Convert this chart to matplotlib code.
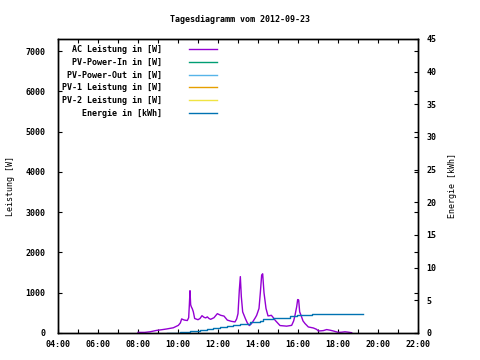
import matplotlib
matplotlib.use("Agg")
import matplotlib.pyplot as plt

plt.rcParams["font.family"] = "DejaVu Sans Mono"
plt.rcParams["font.size"] = 6
plt.rcParams["font.weight"] = "bold"

title = "Tagesdiagramm vom 2012-09-23"

# AC Leistung (W)
ac_times = ["08:00", "08:20", "08:36", "08:56", "09:10", "09:26", "09:36", "09:46", "10:01",
            "10:07", "10:11", "10:16", "10:20", "10:28", "10:32", "10:34", "10:36", "10:38", "10:40",
            "10:43", "10:46", "10:50", "11:00", "11:06", "11:12", "11:18", "11:23", "11:28", "11:33",
            "11:38", "11:48", "11:58", "12:03", "12:08", "12:18", "12:28", "12:40", "12:51",
            "12:56", "13:00", "13:04", "13:07", "13:10", "13:14", "13:22", "13:28", "13:34", "13:40",
            "13:44", "13:52", "13:56", "14:03", "14:07", "14:11", "14:14", "14:18", "14:24",
            "14:30", "14:35", "14:40", "14:46", "14:51", "15:06", "15:26", "15:41", "15:47",
            "15:51", "15:56", "15:59", "16:02", "16:05", "16:09", "16:15", "16:21", "16:31",
            "16:46", "16:56", "17:01", "17:10", "17:16", "17:26", "17:36", "17:46", "18:01",
            "18:11", "18:21", "18:31", "18:41"]
ac_watts = [15, 15, 30, 65, 80, 100, 115, 130, 190,
            250, 350, 330, 320, 310, 380, 690, 1050, 700, 650,
            600, 525, 360, 330, 360, 430, 390, 375, 400, 360,
            340, 380, 480, 460, 440, 420, 320, 290, 275,
            350, 480, 1070, 1400, 900, 525, 360, 250, 185, 230,
            275, 380, 440, 610, 1000, 1440, 1470, 1000, 610,
            425, 430, 440, 380, 320, 185, 170, 190, 300,
            440, 650, 830, 820, 525, 440, 300, 235, 150,
            125, 90, 50, 55, 60, 85, 70, 50, 15,
            20, 30, 20, 8]

# Energie (kWh)
en_times = ["09:26", "10:06", "10:36", "11:06", "11:26", "11:46", "12:06", "12:26", "12:46",
            "13:06", "13:36", "14:06", "14:16", "14:46", "15:36", "15:56", "16:16", "16:41",
            "19:16"]
en_kwh = [0.0, 0.1, 0.3, 0.5, 0.65, 0.8, 0.95, 1.1, 1.25,
          1.4, 1.7, 1.9, 2.1, 2.35, 2.55, 2.7, 2.75, 2.96,
          2.96]

# not recorded on this day
pv_in = []
pv_out = []
pv1 = []
pv2 = []

hour_ticks = list(range(4, 23, 2))
hour_labels = ["%02d:00" % h for h in hour_ticks]


def to_hours(ts):
    return [int(t[:2]) + int(t[3:]) / 60 for t in ts]


fig = plt.figure(figsize=(4.8, 3.6), dpi=100)
ax = fig.add_axes([58 / 480, 1 - 333 / 360, 360 / 480, 294 / 360])
ax2 = ax.twinx()

ax.plot(to_hours(ac_times), ac_watts, color="#9400d3", lw=1, label="AC Leistung in [W]")
ax.plot(pv_in, pv_in, color="#009e73", lw=1, label="PV-Power-In in [W]")
ax.plot(pv_out, pv_out, color="#56b4e9", lw=1, label="PV-Power-Out in [W]")
ax.plot(pv1, pv1, color="#e69f00", lw=1, label="PV-1 Leistung in [W]")
ax.plot(pv2, pv2, color="#f0e442", lw=1, label="PV-2 Leistung in [W]")
ax2.plot(to_hours(en_times), en_kwh, color="#0072b2", lw=1, drawstyle="steps-post",
         label="Energie in [kWh]")

ax.set_xlim(4, 22)
ax.set_ylim(0, 7300)
ax2.set_ylim(0, 45)

ax.set_xticks(hour_ticks)
ax.set_xticklabels(hour_labels)
ax.set_xticks(range(4, 23), minor=True)
ax.set_yticks(range(0, 7001, 1000))
ax2.set_yticks(range(0, 46, 5))

ax.tick_params(axis="x", which="both", direction="in", top=True, length=3, width=0.8, pad=5)
ax.tick_params(axis="y", direction="in", right=True, length=3, width=0.8, pad=9)
ax2.tick_params(axis="y", direction="in", length=3, width=0.8, pad=6)
for a in (ax, ax2):
    for s in a.spines.values():
        s.set_linewidth(1)

ax.set_ylabel("Leistung [W]")
ax.yaxis.set_label_coords((15 - 58) / 360, 0.5)
ax2.set_ylabel("Energie [kWh]")
ax2.yaxis.set_label_coords((448 - 58) / 360, 0.5)
fig.text(0.5, 1 - 19 / 360, title, ha="center", va="center")

handles = ax.get_lines() + ax2.get_lines()
labels = [h.get_label().rjust(20) for h in handles]
ax.legend(handles, labels, loc="upper left", bbox_to_anchor=(0.0, 0.995), frameon=False,
          markerfirst=False, handlelength=3.4, handletextpad=3.2, labelspacing=0.47,
          borderaxespad=0.2, borderpad=0.3)

fig.savefig("out.png", dpi=100)
